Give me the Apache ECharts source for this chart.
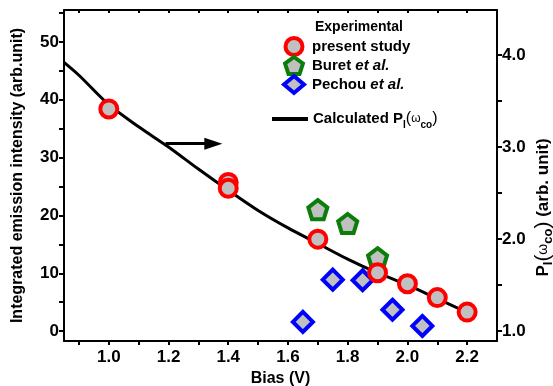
<!DOCTYPE html>
<html>
<head>
<meta charset="utf-8">
<script src="https://cdn.jsdelivr.net/npm/echarts@6/dist/echarts.min.js"></script>
<style>
  html, body { margin: 0; padding: 0; background: #fff; }
  #chart { width: 553px; height: 386px; }
</style>
</head>
<body>
<div id="chart"></div>
<script>
// present study (red circles)
var presentX = [1.0, 1.4, 1.4, 1.7, 1.9, 2.0, 2.1, 2.2];
var presentY = [38.4, 25.7, 24.7, 15.9, 10.1, 8.2, 5.8, 3.3];
// Buret et al. (green pentagons)
var buretX = [1.7, 1.8, 1.9];
var buretY = [21.0, 18.6, 12.7];
// Pechou et al. (blue diamonds)
var pechouX = [1.65, 1.75, 1.85, 1.95, 2.05];
var pechouY = [1.6, 8.9, 8.8, 3.7, 0.9];
// calculated P_I(w_co), right axis
var calcX = [0.85, 0.9, 1.0, 1.1, 1.2, 1.3, 1.4, 1.5, 1.6, 1.7, 1.8, 1.9, 2.0, 2.1, 2.2];
var calcY = [3.92, 3.78, 3.46, 3.22, 3.00, 2.76, 2.53, 2.31, 2.12, 1.95, 1.78, 1.63, 1.50, 1.35, 1.20];

var xTicks = [0.9, 1.0, 1.1, 1.2, 1.3, 1.4, 1.5, 1.6, 1.7, 1.8, 1.9, 2.0, 2.1, 2.2];
var xLabels = [1.0, 1.2, 1.4, 1.6, 1.8, 2.0, 2.2];
var leftTicks = [0, 5, 10, 15, 20, 25, 30, 35, 40, 45, 50, 55];
var leftLabels = [0, 10, 20, 30, 40, 50];
var rightTicks = [1.0, 1.5, 2.0, 2.5, 3.0, 3.5, 4.0];
var rightLabels = [1.0, 2.0, 3.0, 4.0];

function pairs(xs, ys) {
    return xs.map(function (x, i) { return [x, ys[i]]; });
}

var pentagon = 'path://M0,-10 L9.51,-3.09 L5.88,8.09 L-5.88,8.09 L-9.51,-3.09 Z';
var font = 'Liberation Sans';
var gray = '#c0c0c0';

var chart = echarts.init(document.getElementById('chart'), null, { renderer: 'canvas' });

var axisLineStyle = { color: '#000', width: 2 };

var option = {
    animation: false,
    textStyle: { fontFamily: font },
    title: {
        text: 'Experimental',
        left: 310,
        top: 15,
        textStyle: { fontFamily: font, fontSize: 14, fontWeight: 'bold', color: '#000' }
    },
    grid: { left: 64, right: 56, top: 10, bottom: 45, containLabel: false, outerBoundsMode: 'none' },
    legend: [{
        data: ['present study', 'Buret et al.', 'Pechou et al.'],
        orient: 'vertical',
        left: 277,
        top: 31,
        itemWidth: 20,
        itemHeight: 17,
        itemGap: -2,
        selectedMode: false,
        itemStyle: { borderWidth: 4 },
        formatter: function (name) {
            if (name === 'present study') return '{n|present study}';
            var p = name.split(' ');
            return '{n|' + p[0] + ' }{i|et al.}';
        },
        textStyle: {
            fontSize: 15,
            lineHeight: 17,
            padding: [0, 0, 0, 3],
            rich: {
                n: { fontFamily: font, fontSize: 15, fontWeight: 'bold', color: '#000', lineHeight: 17 },
                i: { fontFamily: font, fontSize: 15, fontWeight: 'bold', fontStyle: 'italic', color: '#000', lineHeight: 17 }
            }
        }
    }, {
        data: [{ name: 'Calculated', icon: 'rect' }],
        orient: 'vertical',
        left: 267,
        top: 106,
        itemWidth: 36,
        itemHeight: 4,
        selectedMode: false,
        itemStyle: { color: '#000', borderWidth: 0 },
        formatter: function () {
            return '{b|Calculated P}{s|I}{p|(}{w|ω}{s|co}{p|)}';
        },
        textStyle: {
            rich: {
                b: { fontFamily: font, fontSize: 15, fontWeight: 'bold', color: '#000', lineHeight: 22, verticalAlign: 'middle' },
                s: { fontFamily: font, fontSize: 10, fontWeight: 'bold', color: '#000', lineHeight: 22, verticalAlign: 'bottom' },
                p: { fontFamily: font, fontSize: 16, color: '#000', lineHeight: 22, verticalAlign: 'middle' },
                w: { fontFamily: font, fontSize: 12, color: '#000', lineHeight: 22, verticalAlign: 'middle' }
            }
        }
    }],
    xAxis: [{
        type: 'value',
        min: 0.85,
        max: 2.3,
        name: 'Bias (V)',
        nameLocation: 'middle',
        nameGap: 26,
        nameTextStyle: { fontFamily: font, fontSize: 16, fontWeight: 'bold', color: '#000' },
        axisLine: { show: true, onZero: false, lineStyle: axisLineStyle },
        axisTick: { show: true, length: 4, customValues: xTicks, lineStyle: axisLineStyle },
        axisLabel: {
            customValues: xLabels,
            formatter: function (v) { return v.toFixed(1); },
            fontFamily: font, fontSize: 17, fontWeight: 'bold', color: '#000', margin: 8
        },
        splitLine: { show: false }
    }, {
        type: 'value',
        position: 'top',
        min: 0.85,
        max: 2.3,
        axisLine: { show: true, onZero: false, lineStyle: axisLineStyle },
        axisTick: { show: true, inside: true, length: 3, customValues: xTicks, lineStyle: axisLineStyle },
        axisLabel: { show: false },
        splitLine: { show: false }
    }],
    yAxis: [{
        type: 'value',
        min: -1.7,
        max: 55.5,
        name: 'Integrated emission intensity (arb.unit)',
        nameLocation: 'middle',
        nameRotate: 90,
        nameGap: 38,
        nameTextStyle: { fontFamily: font, fontSize: 16, fontWeight: 'bold', color: '#000' },
        axisLine: { show: true, onZero: false, lineStyle: axisLineStyle },
        axisTick: { show: true, length: 5, customValues: leftTicks, lineStyle: axisLineStyle },
        axisLabel: {
            customValues: leftLabels,
            fontFamily: font, fontSize: 17, fontWeight: 'bold', color: '#000', margin: 5
        },
        splitLine: { show: false }
    }, {
        type: 'value',
        position: 'right',
        min: 0.89,
        max: 4.49,
        name: '{b|P}{s|I}{p|(}{w|ω}{s|co}{p|)}{b| (arb. unit)}',
        nameLocation: 'middle',
        nameRotate: 90,
        nameGap: 34,
        nameMoveOverlap: false,
        nameTextStyle: {
            padding: [0, 64, 0, 0],
            rich: {
                b: { fontFamily: font, fontSize: 17, fontWeight: 'bold', color: '#000', lineHeight: 24, verticalAlign: 'middle' },
                s: { fontFamily: font, fontSize: 13, fontWeight: 'bold', color: '#000', lineHeight: 24, verticalAlign: 'bottom' },
                p: { fontFamily: font, fontSize: 21, color: '#000', lineHeight: 24, verticalAlign: 'middle' },
                w: { fontFamily: font, fontSize: 14, color: '#000', lineHeight: 24, verticalAlign: 'middle' }
            }
        },
        axisLine: { show: true, onZero: false, lineStyle: axisLineStyle },
        axisTick: { show: true, length: 5, customValues: rightTicks, lineStyle: axisLineStyle },
        axisLabel: {
            customValues: rightLabels,
            formatter: function (v) { return v.toFixed(1); },
            fontFamily: font, fontSize: 17, fontWeight: 'bold', color: '#000', margin: 5
        },
        splitLine: { show: false }
    }],
    series: [{
        name: 'Calculated',
        type: 'line',
        yAxisIndex: 1,
        smooth: 0.3,
        symbol: 'none',
        lineStyle: { color: '#000', width: 3 },
        itemStyle: { color: '#000' },
        data: pairs(calcX, calcY),
        z: 1
    }, {
        name: 'Buret et al.',
        type: 'scatter',
        symbol: pentagon,
        symbolSize: 19,
        itemStyle: { color: gray, borderColor: '#0a7d0a', borderWidth: 4, opacity: 1 },
        data: pairs(buretX, buretY),
        z: 2
    }, {
        name: 'Pechou et al.',
        type: 'scatter',
        symbol: 'diamond',
        symbolSize: 20,
        itemStyle: { color: gray, borderColor: '#0000ff', borderWidth: 4, opacity: 1 },
        data: pairs(pechouX, pechouY),
        z: 3
    }, {
        name: 'present study',
        type: 'scatter',
        symbol: 'circle',
        symbolSize: 17,
        itemStyle: { color: gray, borderColor: '#ff0000', borderWidth: 4, opacity: 1 },
        data: pairs(presentX, presentY),
        z: 4,
        markLine: {
            silent: true,
            symbol: ['none', 'triangle'],
            symbolSize: [12, 18],
            label: { show: false },
            lineStyle: { color: '#000', width: 3, type: 'solid' },
            data: [[{ coord: [1.19, 32.4] }, { coord: [1.35, 32.4] }]]
        }
    }]
};

chart.setOption(option);
</script>
</body>
</html>
